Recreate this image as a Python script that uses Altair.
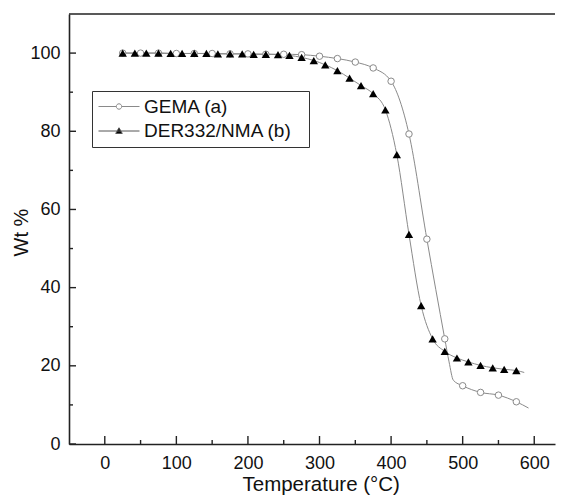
import altair as alt
import pandas as pd

series_names = ["GEMA (a)", "DER332/NMA (b)"]

# GEMA (a): hollow circle markers
gema_t = [25, 50, 75, 100, 125, 150, 175, 200, 225, 250, 275, 300, 325, 350,
          375, 400, 425, 450, 475, 500, 525, 550, 575]
gema_w = [100, 100, 100, 99.9, 99.9, 99.9, 99.8, 99.8, 99.7, 99.7, 99.6, 99.2,
          98.6, 97.7, 96.2, 92.8, 79.3, 52.4, 26.9, 14.9, 13.2, 12.5, 10.8]

# DER332/NMA (b): filled triangle markers
der_t = [25, 42, 58, 75, 92, 108, 125, 142, 158, 175, 192, 208, 225, 242, 258,
         275, 292, 308, 325, 342, 358, 375, 392, 408, 425, 442, 458, 475, 492,
         508, 525, 542, 558, 575]
der_w = [100, 100, 100, 100, 99.9, 99.9, 99.9, 99.9, 99.8, 99.8, 99.8, 99.7,
         99.7, 99.6, 99.4, 98.9, 98.1, 97.0, 95.5, 93.6, 91.7, 89.6, 85.5, 74.0,
         53.6, 35.4, 26.9, 23.7, 22.0, 21.0, 20.1, 19.5, 19.1, 18.8]

gema_curve_t = [481, 487, 592]
gema_curve_w = [21.0, 16.3, 9.2]
der_curve_t = [586]
der_curve_w = [18.3]

x_major = [0, 100, 200, 300, 400, 500, 600]
x_minor = [50, 150, 250, 350, 450, 550]
y_major = [0, 20, 40, 60, 80, 100]
y_minor = [10, 30, 50, 70, 90]
x_domain = [-50, 629]
y_domain = [0, 110]

W, H = 486, 430
FONT = "Liberation Sans"
AXIS_COLOR = "#222222"
LINE_COLOR = "#8a8a8a"

pts_gema = pd.DataFrame({"t": gema_t, "w": gema_w, "series": series_names[0]})
pts_der = pd.DataFrame({"t": der_t, "w": der_w, "series": series_names[1]})
curve = pd.concat([
    pts_gema,
    pd.DataFrame({"t": gema_curve_t, "w": gema_curve_w, "series": series_names[0]}),
    pts_der,
    pd.DataFrame({"t": der_curve_t, "w": der_curve_w, "series": series_names[1]}),
], ignore_index=True).sort_values(["series", "t"])

X = alt.X(
    "t:Q",
    scale=alt.Scale(domain=x_domain, nice=False, zero=False),
    axis=alt.Axis(
        values=x_major, ticks=False, tickSize=0, grid=False, labelPadding=10,
        labelFlush=False, format="d",
        title="Temperature (°C)", titleFontSize=20.5, titleX=251.7, titleY=46,
        titleBaseline="alphabetic", titleAlign="center",
    ),
)
Y = alt.Y(
    "w:Q",
    scale=alt.Scale(domain=y_domain, nice=False, zero=False),
    axis=alt.Axis(
        values=y_major, ticks=False, tickSize=0, grid=False, labelPadding=9,
        labelFlush=False, format="d",
        title="Wt %", titleFontSize=20, titleX=-42, titleY=218, titleAngle=270,
        titleBaseline="alphabetic", titleAlign="center",
    ),
)

lines = alt.Chart(curve).mark_line(
    color=LINE_COLOR, strokeWidth=1, interpolate="monotone"
).encode(x=X, y=Y, detail="series:N")

gema_pts = alt.Chart(pts_gema).mark_point(
    shape="circle", size=42, filled=True, fill="white", stroke=LINE_COLOR,
    strokeWidth=1, opacity=1
).encode(x=X, y=Y)

der_pts = alt.Chart(pts_der).mark_point(
    shape="triangle-up", size=70, filled=True, color="black", opacity=1
).encode(x=X, y=Y)

# legend symbols: line segment with the marker in its middle
# (the trailing move-to only widens the legend box, it draws nothing)
path_gema = ("M-1,0H0.98M1.58,0H3.556"
             "M1.578,0A0.3,0.3 0 1,1 0.978,0A0.3,0.3 0 1,1 1.578,0Z"
             "M21.4,0")
path_der = "M-1,0H3.556M1.278,-0.36L1.64,0.27L0.916,0.27ZM21.4,0"

leg = alt.Legend(
    title=None, orient="none", legendX=23, legendY=77, strokeColor="#333333",
    fillColor="white", padding=6, labelFont=FONT, labelFontSize=19,
    labelColor="#111111", labelOffset=27, labelLimit=300, symbolSize=324,
    symbolStrokeWidth=1, rowPadding=4.5,
)
legend_layer = alt.Chart(curve).transform_filter("false").mark_point(
    opacity=1, filled=False
).encode(
    x=X, y=Y,
    shape=alt.Shape("series:N", scale=alt.Scale(domain=series_names, range=[path_gema, path_der]), legend=leg),
    fill=alt.Fill("series:N", scale=alt.Scale(domain=series_names, range=["white", "black"]), legend=leg),
    stroke=alt.Stroke("series:N", scale=alt.Scale(domain=series_names, range=[LINE_COLOR, "#555555"]), legend=leg),
)

xt_major = alt.Chart(pd.DataFrame({"t": x_major})).mark_rule(
    color=AXIS_COLOR, strokeWidth=1.4).encode(x=X, y=alt.value(H), y2=alt.value(H - 8))
xt_minor = alt.Chart(pd.DataFrame({"t": x_minor})).mark_rule(
    color=AXIS_COLOR, strokeWidth=1.4).encode(x=X, y=alt.value(H), y2=alt.value(H - 4))
yt_major = alt.Chart(pd.DataFrame({"w": y_major})).mark_rule(
    color=AXIS_COLOR, strokeWidth=1.4).encode(y=Y, x=alt.value(0), x2=alt.value(7))
yt_minor = alt.Chart(pd.DataFrame({"w": y_minor})).mark_rule(
    color=AXIS_COLOR, strokeWidth=1.4).encode(y=Y, x=alt.value(0), x2=alt.value(4))

top_frame = alt.Chart(pd.DataFrame({"w": [y_domain[1]]})).mark_rule(
    color=AXIS_COLOR, strokeWidth=1.6).encode(y=Y)

chart = alt.layer(
    lines, gema_pts, der_pts, legend_layer,
    xt_major, xt_minor, yt_major, yt_minor, top_frame,
).properties(
    width=W, height=H,
    padding={"left": 3, "top": 5, "right": 0, "bottom": 0},
).configure_view(
    stroke=None
).configure_axis(
    domainColor=AXIS_COLOR, domainWidth=1.6,
    labelFont=FONT, labelFontSize=18, labelColor="#111111",
    titleFont=FONT, titleFontWeight="normal", titleColor="#111111",
)

chart.save("out.html", embed_options={"renderer": "svg", "actions": False})
